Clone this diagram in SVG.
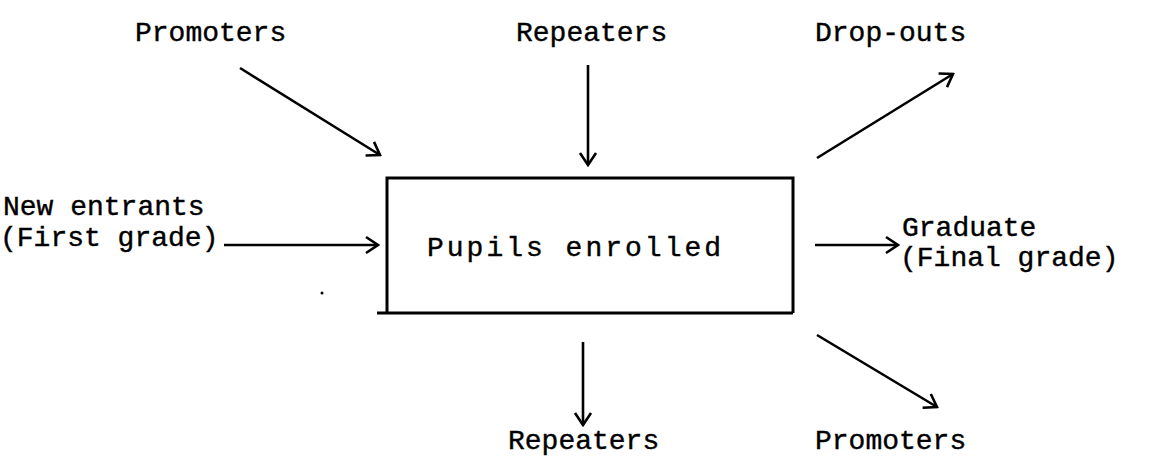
<svg xmlns="http://www.w3.org/2000/svg" width="1163" height="459" viewBox="0 0 1163 459">
<style>
text{font-family:"Liberation Mono","Courier New",monospace;font-size:28px;fill:#000;stroke:#000;stroke-width:0.4;}
.ln{stroke:#000;stroke-width:2.6;fill:none;}
.box{stroke:#000;stroke-width:3;fill:none;}
</style>
<defs>
<marker id="ah" viewBox="0 0 20 20" refX="18" refY="10" markerWidth="20" markerHeight="20" markerUnits="userSpaceOnUse" orient="auto">
<path d="M6,2 L18,10 L6,18" fill="none" stroke="#000" stroke-width="2.6" stroke-linejoin="miter"/>
</marker>
</defs>
<rect width="1163" height="459" fill="#fff"/>
<g id="n-promoters-in"><text x="135" y="41">Promoters</text></g>
<g id="n-repeaters-in"><text x="516" y="41">Repeaters</text></g>
<g id="n-dropouts"><text x="815" y="41">Drop-outs</text></g>
<g id="n-new"><text x="3" y="215">New entrants</text><text x="0" y="246">(First grade)</text></g>
<g id="n-box"><path class="box" d="M387,313 V178 H793 V313 M377,313 H793"/><text x="427" y="256" letter-spacing="3">Pupils enrolled</text></g>
<g id="n-graduate"><text x="902" y="236">Graduate</text><text x="900" y="266">(Final grade)</text></g>
<g id="n-repeaters-out"><text x="508" y="449">Repeaters</text></g>
<g id="n-promoters-out"><text x="815" y="449">Promoters</text></g>
<g id="connectors">
<line class="ln" x1="240" y1="68" x2="380" y2="155" marker-end="url(#ah)"/>
<line class="ln" x1="588" y1="65" x2="588" y2="165" marker-end="url(#ah)"/>
<line class="ln" x1="817" y1="158" x2="953" y2="74" marker-end="url(#ah)"/>
<line class="ln" x1="224" y1="245" x2="378" y2="245" marker-end="url(#ah)"/>
<line class="ln" x1="815" y1="245" x2="898" y2="245" marker-end="url(#ah)"/>
<line class="ln" x1="583" y1="342" x2="583" y2="425" marker-end="url(#ah)"/>
<line class="ln" x1="817" y1="335" x2="937" y2="407" marker-end="url(#ah)"/>
</g>
<circle cx="322" cy="293" r="1.5" fill="#000"/>
</svg>
